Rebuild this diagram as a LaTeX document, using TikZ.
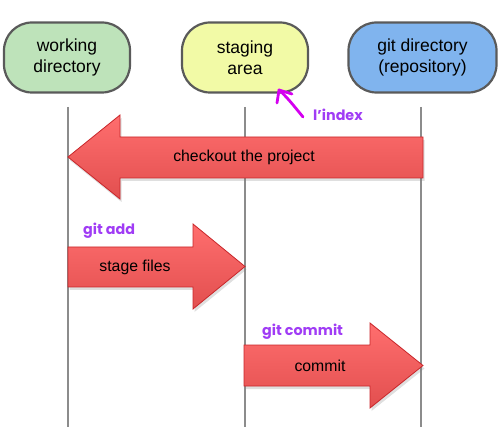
\documentclass[tikz,border=0pt]{standalone}
\usepackage{fontspec}
\setmainfont{Liberation Sans}
\newfontfamily\notefont{Poppins}[BoldFont={* Bold}]
\usetikzlibrary{shadows}
\definecolor{wdfill}{HTML}{BEE3BA}
\definecolor{safill}{HTML}{F2FAA6}
\definecolor{gdfill}{HTML}{80B4EE}
\definecolor{boxline}{HTML}{5A5A5A}
\definecolor{lifeline}{HTML}{8C8C8C}
\definecolor{arrtop}{HTML}{FF6E6E}
\definecolor{arrbot}{HTML}{E24F4F}
\definecolor{arrline}{HTML}{C8262A}
\definecolor{notecol}{HTML}{A03CF5}
\definecolor{markcol}{HTML}{D400F0}
\begin{document}
\begin{tikzpicture}[x=1pt,y=-1pt,
  area/.style={draw=boxline,line width=2.2pt,rounded corners=28pt,minimum width=126pt,minimum height=70pt,align=center,font=\fontsize{17.5}{21}\selectfont,inner sep=0pt},
  life/.style={draw=lifeline,line width=2.5pt},
  bigarrow/.style={draw=arrline,line width=0.8pt,top color=arrtop,bottom color=arrbot,drop shadow={opacity=0.25,shadow xshift=1.5pt,shadow yshift=-3pt}},
  arrlabel/.style={font=\fontsize{15.8}{19}\selectfont,inner sep=0pt},
  note/.style={text=notecol,font=\notefont\bfseries\fontsize{14.3}{16}\selectfont,inner sep=0pt}]
\useasboundingbox (0,0) rectangle (500,427);
\node[area,fill=wdfill] (wd) at (67,57.5) {working\\directory};
\node[area,fill=safill] (sa) at (245,57.5) {staging\\area};
\node[area,fill=gdfill,minimum width=148pt] (gd) at (422.5,57.5) {git directory\\(repository)};
\coordinate (wdtop) at (68,107); \coordinate (wdbot) at (68,427);
\coordinate (satop) at (245,107); \coordinate (sabot) at (245,427);
\coordinate (gdtop) at (421,107); \coordinate (gdbot) at (421,427);
\draw[life] (wdtop) -- (wdbot);
\draw[life] (satop) -- (sabot);
\draw[life] (gdtop) -- (gdbot);
% checkout arrow
\draw[bigarrow] (423,137) -- (120,137) -- (120,115) -- (68,157) -- (120,199) -- (120,178) -- (423,178) -- cycle;
\node[arrlabel] (co) at (244,157) {checkout the project};
% stage files arrow
\draw[bigarrow] (68,247) -- (193,247) -- (193,224) -- (245,266.5) -- (193,309) -- (193,287) -- (68,287) -- cycle;
\node[arrlabel] (sf) at (135,267) {stage files};
% commit arrow
\draw[bigarrow] (244,345) -- (370,345) -- (370,323) -- (423,365.5) -- (370,408) -- (370,386) -- (244,386) -- cycle;
\node[arrlabel] (cm) at (320,366) {commit};
% annotations
\node[note,anchor=west] (ga) at (83,231) {git add};
\node[note,anchor=west] (gc) at (262,332) {git commit};
\node[note,anchor=west] (ix) at (313,115) {l’index};
\coordinate (tip) at (279,90);
\coordinate (tail) at (303,117);
\draw[markcol,line width=2.8pt,line cap=round] (tail) .. controls (294,106) and (287,97) .. (tip);
\draw[markcol,line width=2.8pt,line cap=round,line join=round] (277,103) -- (tip) -- (292,94);
\end{tikzpicture}
\end{document}
